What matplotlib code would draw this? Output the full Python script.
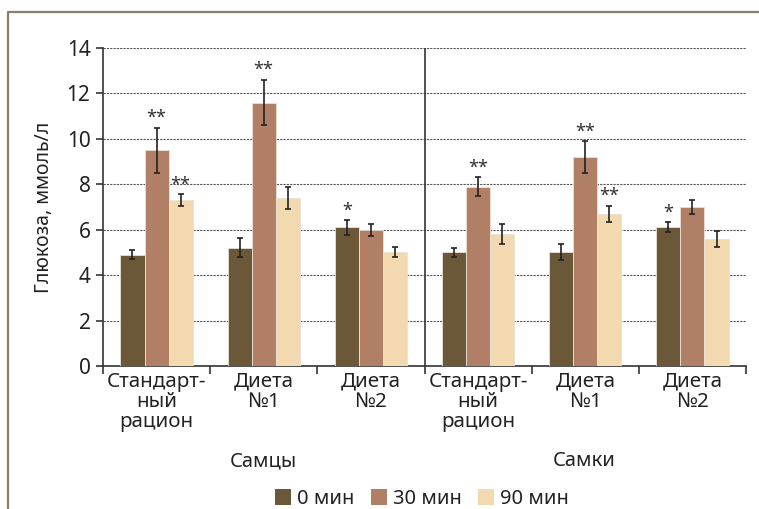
import matplotlib
matplotlib.use("Agg")
import matplotlib.pyplot as plt
from matplotlib.lines import Line2D
from matplotlib.patches import Patch
import numpy as np

plt.rcParams['font.family'] = ['Noto Sans', 'DejaVu Sans']

# Data
categories = ["Стандарт-\nный\nрацион", "Диета\n№1", "Диета\n№2",
              "Стандарт-\nный\nрацион", "Диета\n№1", "Диета\n№2"]
groups = ["Самцы", "Самки"]
series_names = ["0 мин", "30 мин", "90 мин"]

values_0 = [4.9, 5.2, 6.1, 5.0, 5.0, 6.1]
values_30 = [9.5, 11.6, 6.0, 7.9, 9.2, 7.0]
values_90 = [7.3, 7.4, 5.0, 5.8, 6.7, 5.6]

err_0 = [0.2, 0.42, 0.33, 0.2, 0.35, 0.22]
err_30 = [1.0, 1.0, 0.27, 0.4, 0.7, 0.3]
err_90 = [0.27, 0.5, 0.22, 0.45, 0.35, 0.35]

stars_0 = ["", "", "*", "", "", "*"]
stars_30 = ["**", "**", "", "**", "**", ""]
stars_90 = ["**", "", "", "", "**", ""]

colors = ["#6A5838", "#B07F65", "#F2D9AF"]

fig = plt.figure(figsize=(7.59, 5.09), dpi=100)
ax = fig.add_axes([103 / 759, 1 - 366 / 509, (746 - 103) / 759, (366 - 48) / 509])

x = np.arange(len(categories))
width = 0.225
all_vals = [values_0, values_30, values_90]
all_errs = [err_0, err_30, err_90]
all_stars = [stars_0, stars_30, stars_90]

for i, (vals, errs, stars, col) in enumerate(zip(all_vals, all_errs, all_stars, colors)):
    xpos = x + (i - 1) * width
    ax.bar(xpos, vals, width, color=col, edgecolor="#E9E1D6", linewidth=0.6,
           zorder=3, label=series_names[i])
    ax.errorbar(xpos, vals, yerr=errs, fmt="none", ecolor="#222222",
                elinewidth=1.2, capsize=2.5, capthick=1.2, zorder=4)
    for xp, v, e, s in zip(xpos, vals, errs, stars):
        if s:
            ax.annotate(s, (xp, v + e), xytext=(0, 0.5), textcoords="offset points",
                        ha="center", va="bottom", fontsize=13, color="#333333",
                        zorder=5)

ax.set_xlim(-0.5, len(categories) - 0.5)
ax.set_ylim(0, 14)
ax.set_yticks(np.arange(0, 15, 2))
ax.yaxis.grid(True, linestyle=(0, (2, 1)), color="#555555", linewidth=0.8, zorder=0)
ax.set_axisbelow(True)

# Category boundaries as major ticks, labels on minor ticks at centers
ax.set_xticks(np.arange(-0.5, len(categories), 1.0))
ax.set_xticklabels([])
ax.set_xticks(x, minor=True)
ax.set_xticklabels(categories, minor=True, fontsize=14.8, color="#222222",
                   linespacing=1.02)
ax.tick_params(axis="x", which="major", direction="out", length=6, width=1.2,
               color="#333333")
ax.tick_params(axis="x", which="minor", length=0, pad=4)
ax.tick_params(axis="y", direction="out", length=5, width=1.2, color="#333333",
               labelsize=15, labelcolor="#222222", pad=4)

for side in ("top", "right"):
    ax.spines[side].set_visible(False)
for side in ("left", "bottom"):
    ax.spines[side].set_color("#333333")
    ax.spines[side].set_linewidth(1.2)

# Separator between the two groups
ax.axvline(2.5, color="#333333", linewidth=1.2, zorder=2)

ax.set_ylabel("Глюкоза, ммоль/л", fontsize=14, color="#222222", labelpad=9)

# Group labels
fig.text(263 / 759, 1 - 461 / 509, groups[0], ha="center", va="center",
         fontsize=14.5, color="#222222")
fig.text(584 / 759, 1 - 461 / 509, groups[1], ha="center", va="center",
         fontsize=14.5, color="#222222")

# Legend
handles = [Patch(facecolor=c, edgecolor="none") for c in colors]
fig.legend(handles, series_names, loc="center", ncol=3, frameon=False,
           bbox_to_anchor=(422 / 759, 1 - 499 / 509), fontsize=14.5,
           handlelength=0.8, handleheight=0.8, handletextpad=0.3,
           columnspacing=0.8, labelcolor="#222222", borderpad=0.1)

# Outer frame lines
frame_col = "#8C7E66"
fig.add_artist(Line2D([8 / 759, 8 / 759, 1.0], [0.0, 1 - 12 / 509, 1 - 12 / 509],
                      transform=fig.transFigure, color=frame_col, linewidth=1.6))

fig.savefig("out.png", dpi=100)
